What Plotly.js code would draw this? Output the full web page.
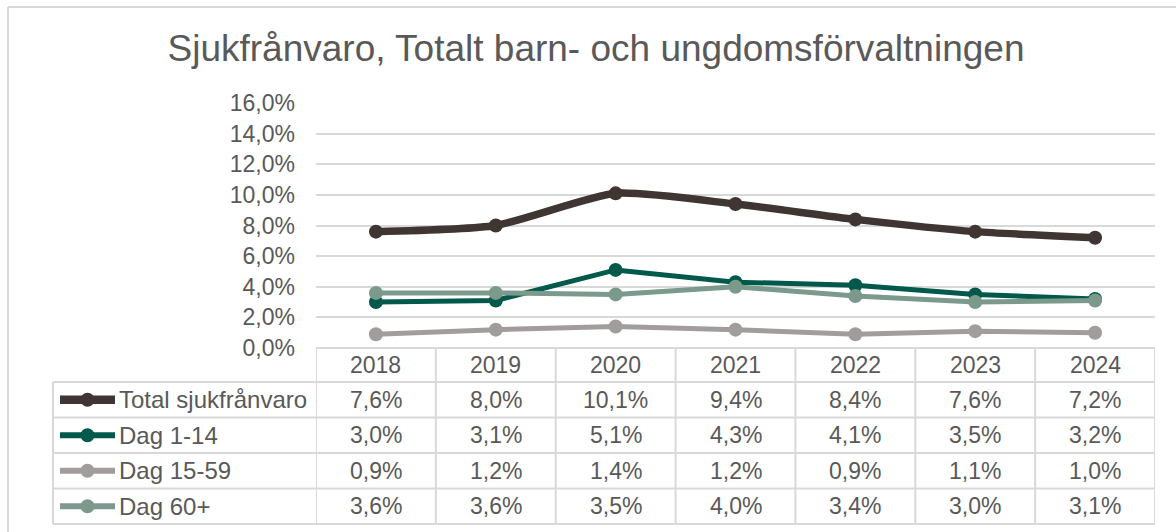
<!DOCTYPE html>
<html><head><meta charset="utf-8">
<script src="https://cdn.plot.ly/plotly-3.0.1.min.js"></script>
<style>html,body{margin:0;padding:0;background:#fff}#chart{width:1176px;height:532px}</style>
</head><body><div id="chart"></div>
<script>
const years = ['2018','2019','2020','2021','2022','2023','2024'];
const seriesNames = ['Total sjukfrånvaro','Dag 1-14','Dag 15-59','Dag 60+'];
const total = [0.076,0.080,0.101,0.094,0.084,0.076,0.072];
const dag1_14 = [0.030,0.031,0.051,0.043,0.041,0.035,0.032];
const dag15_59 = [0.009,0.012,0.014,0.012,0.009,0.011,0.010];
const dag60 = [0.036,0.036,0.035,0.040,0.034,0.030,0.031];
const seriesValues = [total,dag1_14,dag15_59,dag60];
const colors = ['#3f3532','#00594a','#a19d9c','#7b9a8b'];
const widths = [7.5,5,5,5];
const smooth = [true,false,false,false];

const W=1176,H=532, L=316, R=1155, T=103, B=348;
const pw=R-L, ph=B-T;
const px=x=>(x-L)/pw, py=y=>(B-y)/ph;
const gridC='#d9d9d9', txtC='#595959';
const fnt='"Liberation Sans", Arial, sans-serif';

const traces = seriesValues.map((v,i)=>({
  x: years.map((_,k)=>k), y: v, type:'scatter', mode:'lines+markers', name: seriesNames[i],
  line:{color:colors[i], width:widths[i], shape: smooth[i]?'spline':'linear', smoothing:0.6},
  marker:{color:colors[i], size:14}, hoverinfo:'skip', showlegend:false
}));
const shapes=[], annotations=[];
const rowLines=[382,417.5,453,488.5,524];
shapes.push({type:'line',xref:'paper',yref:'paper',x0:px(8),x1:px(W),y0:py(7),y1:py(7),line:{color:gridC,width:2}});
shapes.push({type:'line',xref:'paper',yref:'paper',x0:px(8),x1:px(8),y0:py(7),y1:py(H),line:{color:gridC,width:2}});
shapes.push({type:'line',xref:'paper',yref:'paper',x0:0,x1:1,y0:0,y1:0,line:{color:gridC,width:2}});
rowLines.forEach(y=>shapes.push({type:'line',xref:'paper',yref:'paper',x0:px(53),x1:1,y0:py(y),y1:py(y),line:{color:gridC,width:2}}));
for(let k=0;k<=years.length;k++){
  shapes.push({type:'line',xref:'x',yref:'paper',x0:k-0.5,x1:k-0.5,y0:0,y1:py(524),line:{color:gridC,width:2}});
}
shapes.push({type:'line',xref:'paper',yref:'paper',x0:px(53),x1:px(53),y0:py(382),y1:py(524),line:{color:gridC,width:2}});
years.forEach((yr,k)=>annotations.push({xref:'x',yref:'paper',x:k,y:py(365),text:yr,showarrow:false,xanchor:'center',yanchor:'middle',font:{family:fnt,size:23,color:txtC}}));
const fmt=v=>(v*100).toFixed(1).replace('.',',')+'%';
seriesValues.forEach((v,i)=>{
  const cy=(rowLines[i]+rowLines[i+1])/2;
  v.forEach((val,k)=>annotations.push({xref:'x',yref:'paper',x:k,y:py(cy),text:fmt(val),showarrow:false,xanchor:'center',yanchor:'middle',font:{family:fnt,size:23,color:txtC}}));
  annotations.push({xref:'paper',yref:'paper',x:px(117),y:py(cy),text:seriesNames[i],showarrow:false,xanchor:'left',yanchor:'middle',font:{family:fnt,size:24,color:txtC}});
  shapes.push({type:'line',xref:'paper',yref:'paper',x0:px(60),x1:px(115),y0:py(cy),y1:py(cy),line:{color:colors[i],width:widths[i]+1}});
  shapes.push({type:'circle',xref:'paper',yref:'paper',x0:px(80.5),x1:px(94.5),y0:py(cy-7),y1:py(cy+7),fillcolor:colors[i],line:{width:0}});
});

const layout={
  width:W,height:H,margin:{l:L,r:W-R,t:T,b:H-B},
  paper_bgcolor:'#fff',plot_bgcolor:'#fff',separators:', ',
  title:{text:'Sjukfrånvaro, Totalt barn- och ungdomsförvaltningen',font:{family:fnt,size:37,color:txtC},x:596/W,xanchor:'center',xref:'container',y:1-48/H,yanchor:'middle'},
  xaxis:{range:[-0.5,6.5],showgrid:false,zeroline:false,showticklabels:false,showline:false,fixedrange:true},
  yaxis:{range:[0,0.16],dtick:0.02,tickformat:'.1%',showgrid:true,gridcolor:gridC,gridwidth:2,zeroline:false,showline:false,
    ticks:'',ticklabelstandoff:20,tickfont:{family:fnt,size:23,color:txtC},fixedrange:true},
  shapes:shapes,annotations:annotations,showlegend:false
};
Plotly.newPlot('chart',traces,layout,{displayModeBar:false,staticPlot:true});
</script></body></html>
